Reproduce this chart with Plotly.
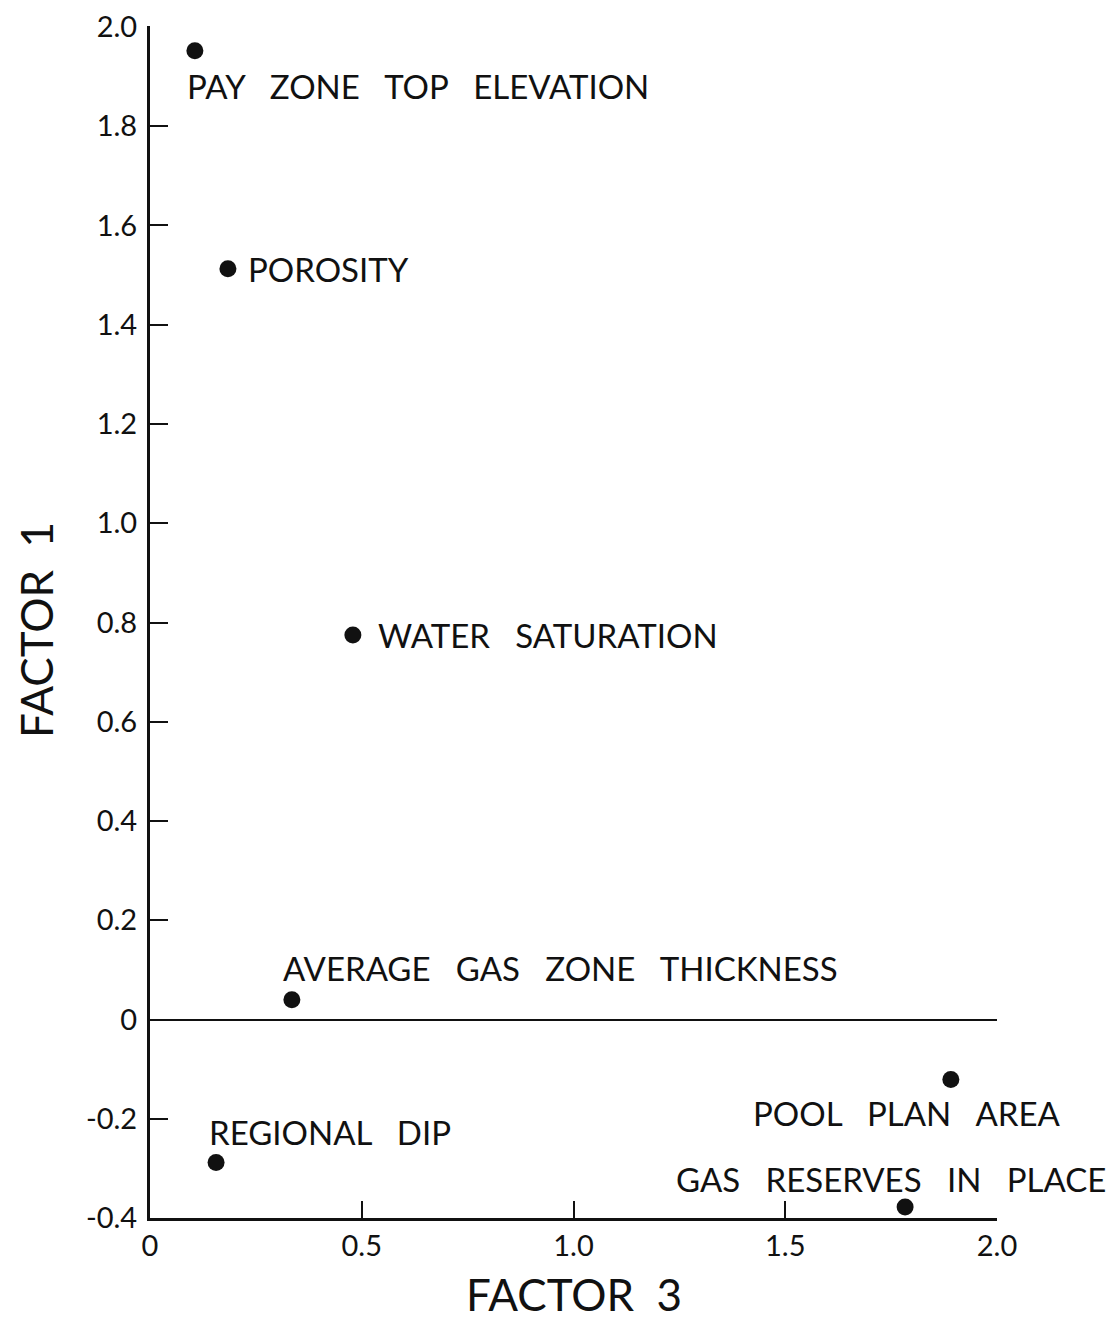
import plotly.graph_objects as go

# Factor loadings
VARIABLES = [
    "PAY ZONE TOP ELEVATION",
    "POROSITY",
    "WATER SATURATION",
    "AVERAGE GAS ZONE THICKNESS",
    "REGIONAL DIP",
    "POOL PLAN AREA",
    "GAS RESERVES IN PLACE",
]
FACTOR_3 = [0.106, 0.184, 0.479, 0.335, 0.156, 1.891, 1.783]
FACTOR_1 = [1.952, 1.513, 0.775, 0.040, -0.288, -0.121, -0.378]

X_TICKS = [0, 0.5, 1.0, 1.5, 2.0]
X_TICK_TEXT = ["0", "0.5", "1.0", "1.5", "2.0"]
Y_TICKS = [2.0, 1.8, 1.6, 1.4, 1.2, 1.0, 0.8, 0.6, 0.4, 0.2, 0, -0.2, -0.4]
Y_TICK_TEXT = ["2.0", "1.8", "1.6", "1.4", "1.2", "1.0", "0.8", "0.6", "0.4", "0.2", "0", "-0.2", "-0.4"]

# label placement relative to each point, in pixels: (xanchor, xshift, yshift)
LABEL_OFFSETS = [
    ("left", -10, -35),
    ("left", 18, 0),
    ("left", 23, 0),
    ("left", -11, 32),
    ("left", -9, 30),
    ("center", -44, -33),
    ("center", -14, 28),
]

INK = "#111111"
FONT = "Lato, 'Noto Sans', sans-serif"
GAP = "\u00a0\u00a0\u00a0"  # the original is set with wide word spacing

fig = go.Figure()
fig.add_trace(
    go.Scatter(
        x=FACTOR_3,
        y=FACTOR_1,
        mode="markers",
        marker=dict(size=17, color=INK),
        hovertext=VARIABLES,
        hoverinfo="text",
    )
)

for name, x, y, (anchor, dx, dy) in zip(VARIABLES, FACTOR_3, FACTOR_1, LABEL_OFFSETS):
    fig.add_annotation(
        x=x, y=y, text=name.replace(" ", GAP),
        showarrow=False, xanchor=anchor, yanchor="middle",
        xshift=dx, yshift=dy,
        font=dict(size=33, color=INK, family=FONT),
    )

# axis titles placed by hand so they sit where the original has them
fig.add_annotation(
    xref="paper", yref="paper", x=0.5, y=0, yshift=-104,
    text="FACTOR\u00a0\u00a03", showarrow=False, yanchor="bottom",
    font=dict(size=44, color=INK, family=FONT),
)
fig.add_annotation(
    xref="paper", yref="paper", x=0, y=0.5, xshift=-114, yshift=-8,
    text="FACTOR\u00a0\u00a01", showarrow=False, textangle=-90, xanchor="center",
    font=dict(size=44, color=INK, family=FONT),
)

fig.update_xaxes(
    range=[0, 2.0], tickvals=X_TICKS, ticktext=X_TICK_TEXT,
    showgrid=False, zeroline=False, automargin=False,
    showline=True, linecolor=INK, linewidth=3,
    ticks="inside", ticklen=17, tickwidth=2, tickcolor=INK,
    tickfont=dict(size=29, color=INK, family=FONT),
    ticklabeloverflow="allow",
)
fig.update_yaxes(
    range=[-0.4, 2.002], tickvals=Y_TICKS, ticktext=Y_TICK_TEXT,
    showgrid=False, zeroline=True, zerolinecolor=INK, zerolinewidth=2,
    showline=True, linecolor=INK, linewidth=3, automargin=False,
    ticks="inside", ticklen=18, tickwidth=2, tickcolor=INK,
    tickfont=dict(size=29, color=INK, family=FONT),
    ticklabelstandoff=4, ticklabeloverflow="allow",
)
# page body has an 8px margin, so the figure is 16px smaller than the window
fig.update_layout(
    width=1098, height=1315,
    margin=dict(l=142, r=109, t=18, b=105),
    plot_bgcolor="white", paper_bgcolor="white",
    showlegend=False,
)

fig.write_html("out.html")
